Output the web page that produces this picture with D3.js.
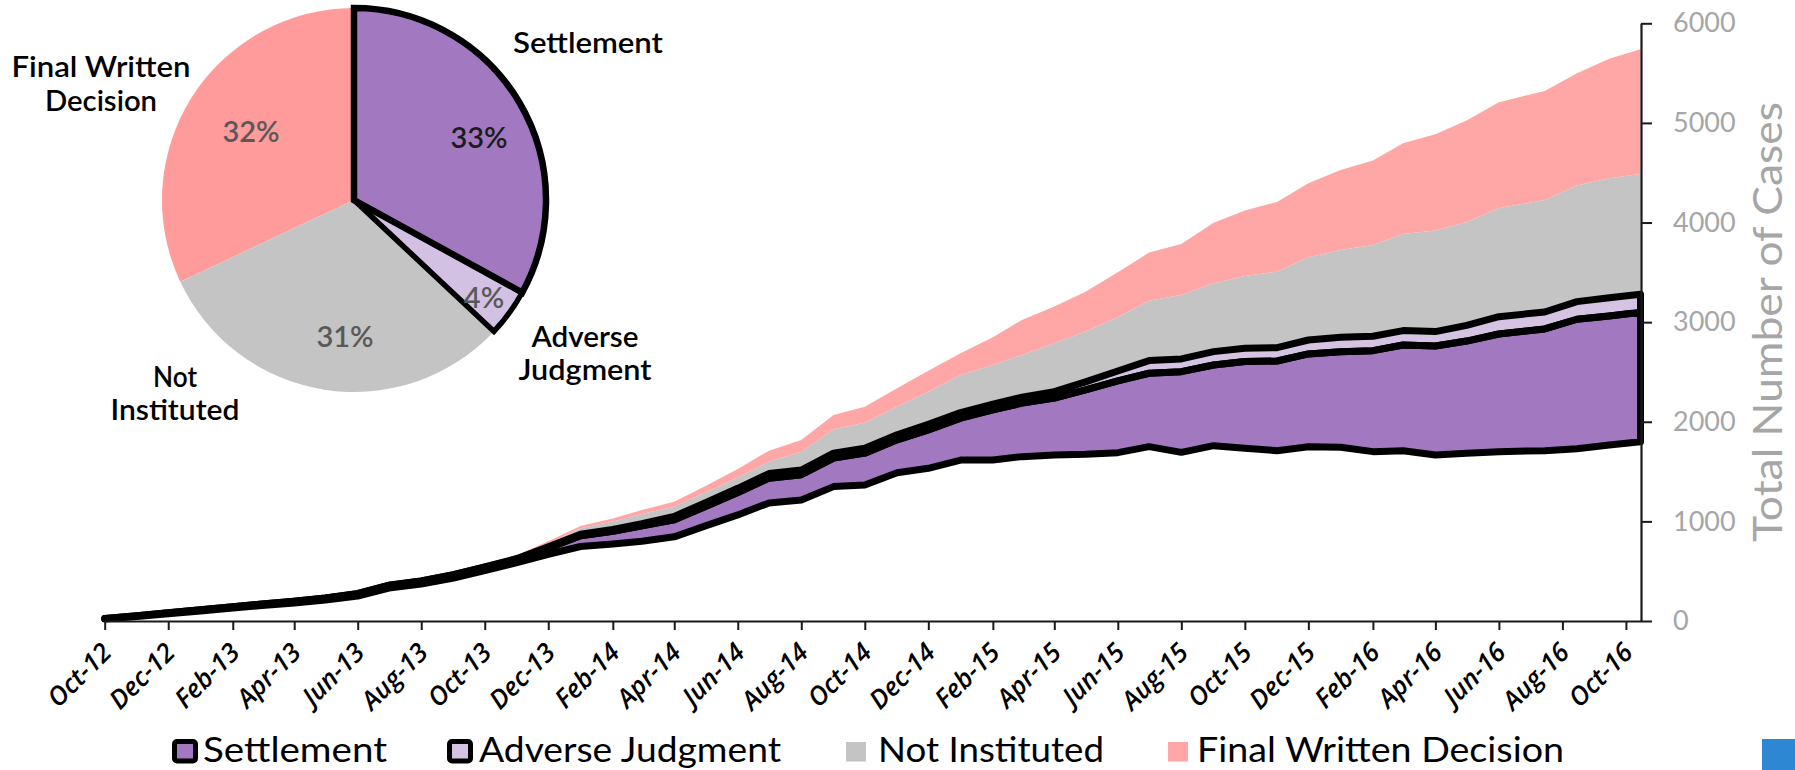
<!DOCTYPE html>
<html><head><meta charset="utf-8">
<script src="https://cdn.jsdelivr.net/npm/d3@7/dist/d3.min.js"></script>
<style>html,body{margin:0;padding:0;background:#fff;}svg{display:block;}</style>
</head><body>
<svg id="chart" width="1795" height="770"></svg>
<script>
// ---------------- DATA ----------------
const dates = ["2012-10-01","2012-11-01","2012-12-01","2013-01-01","2013-02-01","2013-03-01","2013-04-01","2013-05-01","2013-06-01","2013-07-01","2013-08-01","2013-09-01","2013-10-01","2013-11-01","2013-12-01","2014-01-01","2014-02-01","2014-03-01","2014-04-01","2014-05-01","2014-06-01","2014-07-01","2014-08-01","2014-09-01","2014-10-01","2014-11-01","2014-12-01","2015-01-01","2015-02-01","2015-03-01","2015-04-01","2015-05-01","2015-06-01","2015-07-01","2015-08-01","2015-09-01","2015-10-01","2015-11-01","2015-12-01","2016-01-01","2016-02-01","2016-03-01","2016-04-01","2016-05-01","2016-06-01","2016-07-15","2016-08-15","2016-09-15","2016-10-15"];
// base (pending) series – drawn without fill
const pending = [20,45,72,100,130,155,180,210,250,330,370,430,505,585,670,748,772,800,845,955,1065,1185,1215,1349,1365,1489,1533,1616,1616,1650,1667,1673,1690,1750,1693,1760,1734,1710,1750,1744,1700,1710,1667,1683,1700,1710,1730,1767,1800];
const settlement = [4,7,10,12,13,15,18,20,25,28,32,35,35,37,62,107,128,155,171,195,225,249,253,286,320,330,386,420,504,537,570,648,720,737,810,810,870,900,931,960,1014,1061,1094,1127,1181,1222,1299,1295,1299];
const adverseJudgment = [0,0,0,0,0,0,0,1,1,1,1,1,3,6,12,17,20,23,34,38,42,46,47,50,50,51,56,56,58,60,65,79,100,127,128,134,134,134,140,144,144,144,144,158,174,170,177,183,181];
const notInstituted = [1,2,4,4,7,7,8,9,10,11,12,14,15,20,31,59,80,97,98,102,108,120,185,239,256,282,327,378,392,424,486,505,540,602,642,686,726,763,830,877,917,971,1014,1037,1088,1125,1165,1200,1208];
const finalWrittenDecision = [1,2,4,4,6,7,8,10,10,10,12,12,10,12,25,23,30,40,50,65,85,110,117,144,161,184,211,218,278,351,368,401,450,482,512,609,656,700,743,803,847,910,967,1020,1065,1094,1128,1198,1252];

const seriesNames = ["Settlement","Adverse Judgment","Not Instituted","Final Written Decision"];
const pieShares = [33,4,31,32];
const pieLabelLines = [["Settlement"],["Adverse","Judgment"],["Not","Instituted"],["Final Written","Decision"]];
const xTickLabels = ["Oct-12","Dec-12","Feb-13","Apr-13","Jun-13","Aug-13","Oct-13","Dec-13","Feb-14","Apr-14","Jun-14","Aug-14","Oct-14","Dec-14","Feb-15","Apr-15","Jun-15","Aug-15","Oct-15","Dec-15","Feb-16","Apr-16","Jun-16","Aug-16","Oct-16"];
const yTicks = [0,1000,2000,3000,4000,5000,6000];
const yTitle = "Total Number of Cases";

// ---------------- STYLE ----------------
const fillColors = ["#a279c0","#d5c3e4","#c4c4c4","#ffa6a6"];
const pieColors  = ["#a279c0","#d3c1e3","#c4c4c4","#ff9b9b"];
const FONT = "Lato, 'Liberation Sans', sans-serif";

const svg = d3.select("#chart");
const parseD = d3.utcParse("%Y-%m-%d");
const parseT = d3.utcParse("%b-%y");
const keys = ["pending","settlement","adverse","notInst","fwd"];
const rows = dates.map((d,i)=>({date:parseD(d), pending:pending[i], settlement:settlement[i],
  adverse:adverseJudgment[i], notInst:notInstituted[i], fwd:finalWrittenDecision[i]}));

const X = d3.scaleUtc().domain([rows[0].date, rows[rows.length-1].date]).range([104.7,1640.5]);
const Y = d3.scaleLinear().domain([0,6000]).range([621,23.3]);

const stack = d3.stack().keys(keys)(rows);
const area = d3.area().x(d=>X(d.data.date)).y0(d=>Y(d[0])).y1(d=>Y(d[1]));

const gA = svg.append("g");
stack.slice(1).forEach((s,i)=>{
  gA.append("path").attr("d", area(s)).attr("fill", fillColors[i]).attr("stroke","none");
});
[stack[1], stack[2]].forEach(s=>{
  gA.append("path").attr("d", area(s)+"Z").attr("fill","none").attr("stroke","#000")
    .attr("stroke-width",7).attr("stroke-linejoin","round");
});

// x axis
const xAxis = d3.axisBottom(X).tickValues(xTickLabels.map(parseT)).tickFormat(d3.utcFormat("%b-%y"))
  .tickSize(9).tickSizeOuter(0);
const gx = svg.append("g").attr("transform","translate(0,621)").call(xAxis);
gx.select(".domain").attr("stroke","#1a1a1a").attr("stroke-width",2.2);
gx.selectAll(".tick line").attr("stroke","#1a1a1a").attr("stroke-width",2);
gx.selectAll(".tick text")
  .attr("x",8).attr("y",33).attr("dy",0)
  .attr("transform","rotate(-45,8,33)")
  .attr("text-anchor","end")
  .attr("fill","#000")
  .style("font-family","'Open Sans', 'DejaVu Sans', sans-serif")
  .style("font-style","italic").style("font-weight","600").style("font-size","26px");

// y axis (right)
const yAxis = d3.axisRight(Y).tickValues(yTicks).tickFormat(d3.format("d")).tickSize(11).tickPadding(21).tickSizeOuter(0);
const gy = svg.append("g").attr("transform","translate(1641,0)").call(yAxis);
gy.select(".domain").attr("stroke","#1a1a1a").attr("stroke-width",2.2);
gy.selectAll(".tick line").attr("stroke","#1a1a1a").attr("stroke-width",2);
gy.selectAll(".tick text").attr("fill","#a6a6a6")
  .style("font-family",FONT).style("font-size","27px");

svg.append("text").text(yTitle)
  .attr("transform","translate(1782,322) rotate(-90)")
  .attr("text-anchor","middle").attr("fill","#a6a6a6")
  .attr("textLength",440).attr("lengthAdjust","spacingAndGlyphs")
  .style("font-family",FONT).style("font-size","40px");

// ---------------- PIE ----------------
const pc = {x:354, y:200, r:192};
const pie = d3.pie().sort(null).value(d=>d)(pieShares);
const arc = d3.arc().innerRadius(0).outerRadius(pc.r);
const gP = svg.append("g").attr("transform",`translate(${pc.x},${pc.y})`);
[3,2,1,0].forEach(i=>{
  const outlined = i<2;
  gP.append("path").attr("d",arc(pie[i])).attr("fill",pieColors[i])
    .attr("stroke", outlined ? "#000" : "none").attr("stroke-width", i===0?6.5:5.5)
    .attr("stroke-linejoin","miter");
});
const pctPos = [[125,-62.5],[130,97.5],[-9,136],[-103,-69]];
const pctColor = ["#1c1c1c","#595959","#595959","#595959"];
pie.forEach((p,i)=>{
  gP.append("text").text(pieShares[i]+"%")
    .attr("x",pctPos[i][0]).attr("y",pctPos[i][1]+10.5)
    .attr("text-anchor","middle").attr("fill",pctColor[i])
    .style("font-family",FONT).style("font-weight","600").style("font-size","29px");
});
const catPos = [[234,-147.3],[231,146.7],[-179,186.7],[-253,-122.7]];
const catLen = [[150],[107,133],[44,129],[179,112]];
pieLabelLines.forEach((lines,i)=>{
  lines.forEach((ln,j)=>{
    gP.append("text").text(ln)
      .attr("x",catPos[i][0]).attr("y",catPos[i][1]+j*33.5)
      .attr("text-anchor","middle").attr("fill","#000")
      .attr("textLength",catLen[i][j]).attr("lengthAdjust","spacingAndGlyphs")
      .style("font-family",FONT).style("font-weight","600").style("font-size","28px");
  });
});

// ---------------- LEGEND ----------------
const legX = [[174.5,203,184],[449.5,479,302],[846,878,226],[1168,1197,367]];
seriesNames.forEach((nm,i)=>{
  const g = svg.append("g");
  if(i<2){
    g.append("rect").attr("x",legX[i][0]).attr("y",741.5).attr("width",21).attr("height",19.5)
      .attr("rx",2.5).attr("fill",fillColors[i]).attr("stroke","#000").attr("stroke-width",5);
  } else {
    g.append("rect").attr("x",legX[i][0]).attr("y",742).attr("width",20).attr("height",19.5)
      .attr("fill",fillColors[i]);
  }
  g.append("text").text(nm).attr("x",legX[i][1]).attr("y",761.5).attr("fill","#000")
    .attr("textLength",legX[i][2]).attr("lengthAdjust","spacingAndGlyphs")
    .style("font-family",FONT).style("font-size","35px");
});

svg.append("rect").attr("x",1762).attr("y",739).attr("width",33).attr("height",31).attr("fill","#2d87d3");
</script>
</body></html>
